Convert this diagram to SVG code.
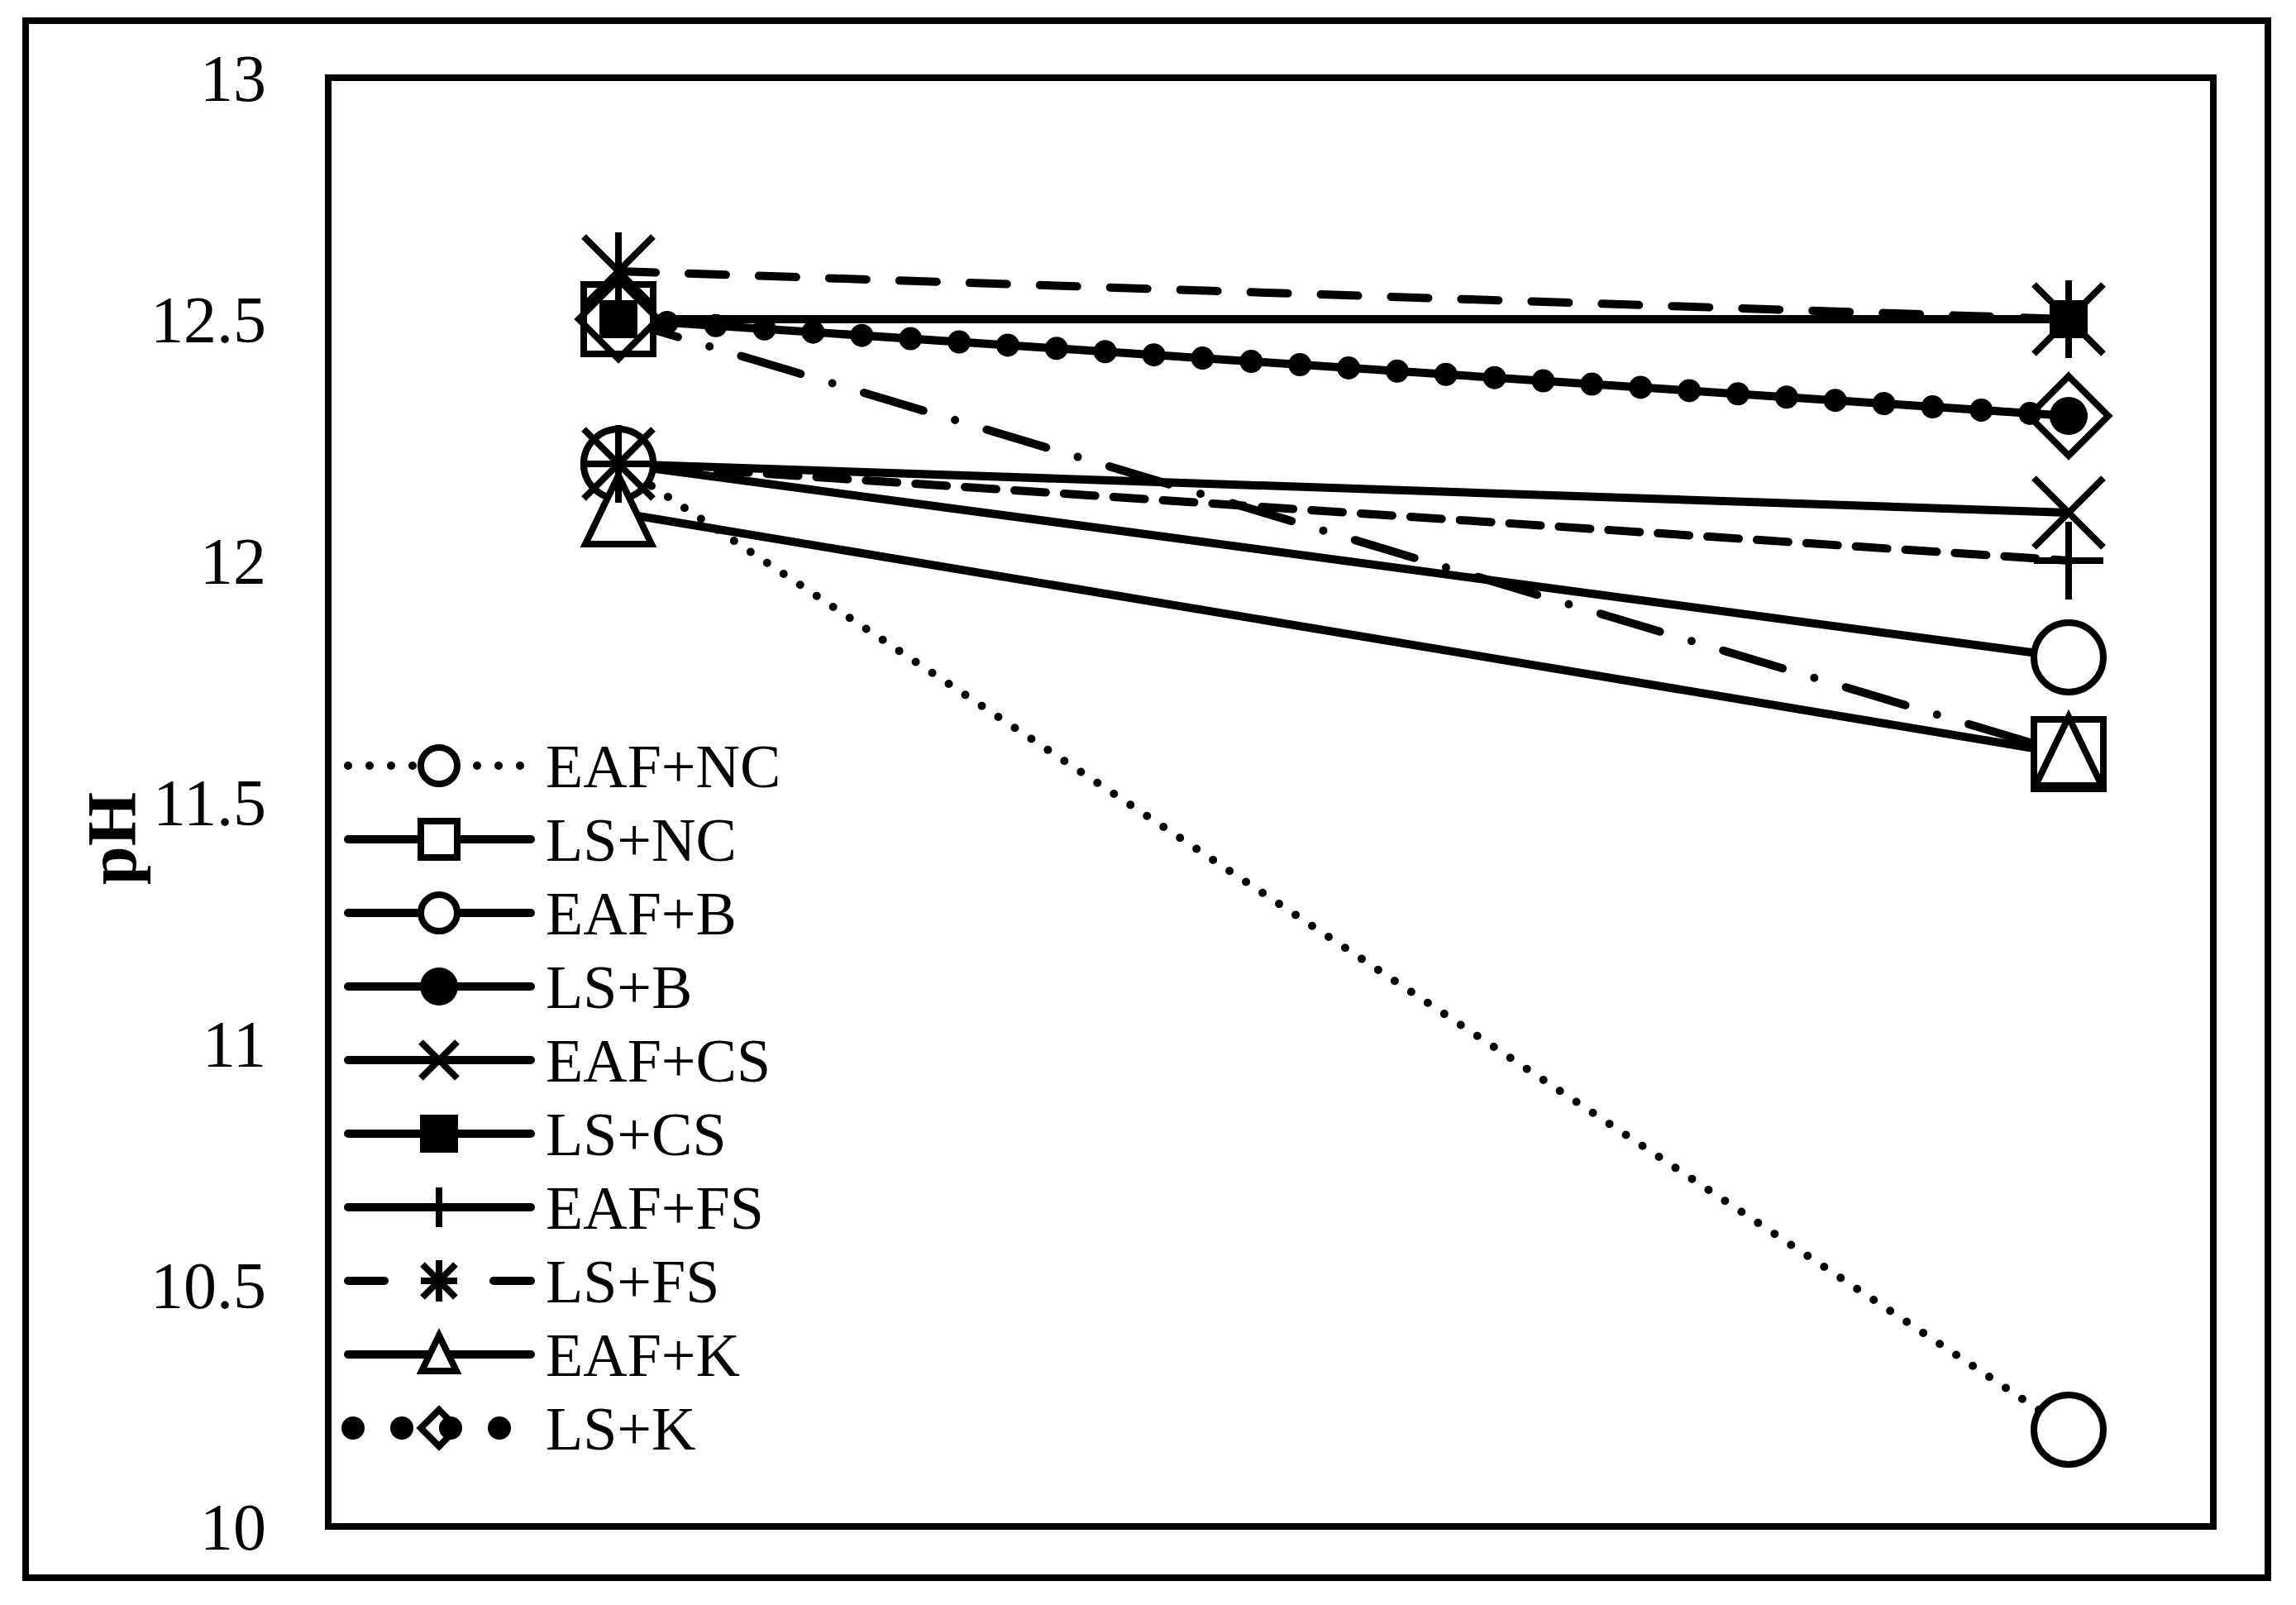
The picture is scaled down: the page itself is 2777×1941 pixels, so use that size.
<svg xmlns="http://www.w3.org/2000/svg" width="2777" height="1941" viewBox="0 0 2777 1941">
<style>
.ax{font-family:"Liberation Serif",serif;font-size:80px;fill:#000;text-anchor:end}
.lg{font-family:"Liberation Serif",serif;font-size:74px;fill:#000}
.o{fill:#fff;stroke:#000;stroke-width:8}
.f{fill:#000;stroke:none}
.k{fill:none;stroke:#000;stroke-width:8}
.ln{fill:none;stroke:#000;stroke-width:10;stroke-linecap:round}
.big{stroke-width:28;stroke-dasharray:0 59}
</style>
<defs>
<circle id="mC" r="42" class="o"/>
<rect id="mS" x="-42" y="-42" width="84" height="84" class="o"/>
<circle id="mB" r="23" class="f"/>
<rect id="mFS" x="-23" y="-23" width="46" height="46" class="f"/>
<path id="mX" d="M-42,-42L42,42M-42,42L42,-42" class="k"/>
<path id="mStar" d="M-42,-42L42,42M-42,42L42,-42M0,-47V47" class="k"/>
<path id="mPlus" d="M-42,0H42M0,-47V47" class="k"/>
<path id="mT" d="M0,-45L40,38H-40Z" class="o"/>
<path id="mD" d="M0,-48L48,0L0,48L-48,0Z" class="k"/>
</defs>
<rect width="2777" height="1941" fill="#fff"/>
<rect x="31" y="25" width="2712" height="1883" fill="none" stroke="#000" stroke-width="8"/>
<rect x="397" y="94" width="2280" height="1752" fill="none" stroke="#000" stroke-width="8"/>
<g id="axis">
<text class="ax" x="322" y="122">13</text>
<text class="ax" x="322" y="414">12.5</text>
<text class="ax" x="322" y="706">12</text>
<text class="ax" x="322" y="998">11.5</text>
<text class="ax" x="322" y="1290">11</text>
<text class="ax" x="322" y="1582">10.5</text>
<text class="ax" x="322" y="1874">10</text>
<text transform="translate(164,1014) rotate(-90)" text-anchor="middle" style="font-family:'Liberation Serif',serif;font-size:84px;font-weight:bold">pH</text>
</g>
<g id="connectors">
<line class="ln" x1="748" y1="561" x2="2502" y2="1729" stroke-dasharray="0 24"/>
<line class="ln" x1="748" y1="386" x2="2502" y2="912" stroke-dasharray="75 40 0 40"/>
<line class="ln" x1="748" y1="561" x2="2502" y2="795"/>
<line class="ln" x1="748" y1="386" x2="2502" y2="503"/>
<line class="ln" x1="748" y1="561" x2="2502" y2="620"/>
<line class="ln" x1="748" y1="386" x2="2502" y2="386"/>
<line class="ln" x1="748" y1="561" x2="2502" y2="678" stroke-dasharray="38 22"/>
<line class="ln" x1="748" y1="328" x2="2502" y2="386" stroke-dasharray="45 40"/>
<line class="ln" x1="748" y1="620" x2="2502" y2="912"/>
<line class="ln big" x1="748" y1="386" x2="2502" y2="503"/>
</g>
<g id="EAF_NC"><use href="#mC" x="748" y="561"/><use href="#mC" x="2502" y="1729"/></g>
<g id="LS_NC"><use href="#mS" x="748" y="386"/><use href="#mS" x="2502" y="912"/></g>
<g id="EAF_B"><use href="#mC" x="748" y="561"/><use href="#mC" x="2502" y="795"/></g>
<g id="EAF_K"><use href="#mT" x="748" y="620"/><use href="#mT" x="2502" y="912"/></g>
<g id="LS_K"><use href="#mD" x="748" y="386"/><use href="#mD" x="2502" y="503"/></g>
<g id="LS_B"><use href="#mB" x="748" y="386"/><use href="#mB" x="2502" y="503"/></g>
<g id="LS_CS"><use href="#mFS" x="748" y="386"/><use href="#mFS" x="2502" y="386"/></g>
<g id="EAF_CS"><use href="#mX" x="748" y="561"/><use href="#mX" x="2502" y="620"/></g>
<g id="EAF_FS"><use href="#mPlus" x="748" y="561"/><use href="#mPlus" x="2502" y="678"/></g>
<g id="LS_FS"><use href="#mStar" x="748" y="328"/><use href="#mStar" x="2502" y="386"/></g>
<g id="legend">
<line class="ln" x1="421" y1="926" x2="642" y2="926" stroke-dasharray="0 26"/>
<circle cx="531" cy="926" r="22" class="o"/>
<text class="lg" x="660" y="952">EAF+NC</text>
<line class="ln" x1="421" y1="1015" x2="642" y2="1015"/>
<rect x="509" y="993" width="44" height="44" class="o"/>
<text class="lg" x="660" y="1041">LS+NC</text>
<line class="ln" x1="421" y1="1104" x2="642" y2="1104"/>
<circle cx="531" cy="1104" r="22" class="o"/>
<text class="lg" x="660" y="1130">EAF+B</text>
<line class="ln" x1="421" y1="1193" x2="642" y2="1193"/>
<circle cx="531" cy="1193" r="23" class="f"/>
<text class="lg" x="660" y="1219">LS+B</text>
<line class="ln" x1="421" y1="1282" x2="642" y2="1282"/>
<path d="M509,1260L553,1304M509,1304L553,1260" class="k"/>
<text class="lg" x="660" y="1308">EAF+CS</text>
<line class="ln" x1="421" y1="1371" x2="642" y2="1371"/>
<rect x="508" y="1348" width="46" height="46" class="f"/>
<text class="lg" x="660" y="1397">LS+CS</text>
<line class="ln" x1="421" y1="1460" x2="642" y2="1460"/>
<path d="M531,1436V1484" class="k"/>
<text class="lg" x="660" y="1486">EAF+FS</text>
<line class="ln" x1="421" y1="1549" x2="465" y2="1549"/>
<line class="ln" x1="597" y1="1549" x2="642" y2="1549"/>
<path d="M511,1529L551,1569M511,1569L551,1529M531,1524V1574M509,1549H553" class="k"/>
<text class="lg" x="660" y="1575">LS+FS</text>
<line class="ln" x1="421" y1="1638" x2="642" y2="1638"/>
<path d="M531,1615L552,1658H510Z" class="o"/>
<text class="lg" x="660" y="1664">EAF+K</text>
<line class="ln big" x1="427" y1="1727" x2="610" y2="1727"/>
<path d="M531,1705L553,1727L531,1749L509,1727Z" class="k"/>
<text class="lg" x="660" y="1753">LS+K</text>
</g>
</svg>
